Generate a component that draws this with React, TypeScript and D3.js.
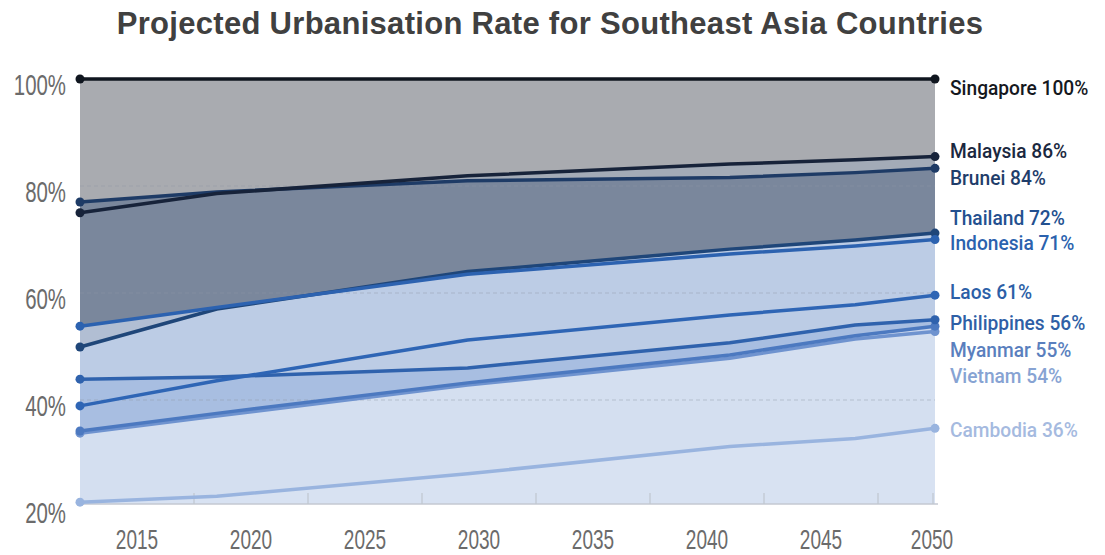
import React from "react";
import * as d3 from "d3";

// ---- data ----
const years = [2012.5, 2018.5, 2029.5, 2041, 2046.5, 2050];
const countries = ["Singapore", "Malaysia", "Brunei", "Indonesia", "Thailand", "Laos", "Philippines", "Myanmar", "Vietnam", "Cambodia"];
const singapore = [100, 100, 100, 100, 100, 100];
const malaysia = [75.0, 78.6, 81.9, 84.1, 84.9, 85.5];
const brunei = [77.0, 78.9, 81.0, 81.6, 82.5, 83.3];
const indonesia = [53.8, 57.3, 63.5, 67.3, 68.8, 70.0];
const thailand = [49.9, 57.0, 64.0, 68.2, 69.9, 71.2];
const laos = [38.9, 43.6, 51.2, 55.9, 57.8, 59.6];
const philippines = [43.9, 44.3, 46.0, 50.7, 54.0, 55.0];
const myanmar = [34.2, 37.5, 43.2, 48.4, 52.0, 53.8];
const vietnam = [33.8, 37.0, 42.8, 47.8, 51.4, 52.8];
const cambodia = [20.9, 22.0, 26.2, 31.3, 32.8, 34.7];
const labelPercents = ["100%", "86%", "84%", "71%", "72%", "61%", "56%", "55%", "54%", "36%"];
const xTickLabels = [2015, 2020, 2025, 2030, 2035, 2040, 2045, 2050];
const xTickMarks = [2017.5, 2022.5, 2027.5, 2032.5, 2037.5, 2042.5, 2047.5, 2050];
const yTickValues = [20, 40, 60, 80, 100];
const gridValues = [80, 60, 40];

const seriesValues = [singapore, malaysia, brunei, indonesia, thailand, laos, philippines, myanmar, vietnam, cambodia];

// ---- styles ----
const areaColors = ["#a9abb0", "#a3abb7", "#7a879c", "#b1bed3", "#bccce5", "#bccce5", "#a8bee1", "#c9d6ed", "#d4dff0", "#d8e2f2"];
const lineColors = ["#10161f", "#17233a", "#1e3b66", "#2c62b0", "#1f4679", "#2e65b5", "#2f62ad", "#4c79c0", "#6f93cf", "#99b4df"];
const labelColors = ["#15181e", "#1b2840", "#1f3d6a", "#2b62ae", "#23508f", "#2c5fa7", "#2f5fa6", "#5a7fbe", "#87a3d3", "#a5badf"];
const labelDy = [16, 1.5, 17, 10.5, -8, 4, 10, 31, 51.5, 8.5];

const W = 1105;
const H = 555;
const plotBottom = 504;

export default function App() {
  const x = d3.scaleLinear().domain([2012.5, 2050]).range([80, 935]);
  const y = d3.scaleLinear().domain([20, 100]).range([507, 79]);

  const area = d3
    .area<number>()
    .x((_, i) => x(years[i]))
    .y0(plotBottom)
    .y1((d) => y(d));
  const line = d3
    .line<number>()
    .x((_, i) => x(years[i]))
    .y((d) => y(d));

  const axisFont = "'Liberation Sans', Arial, sans-serif";
  const labelFont = "Roboto, 'Liberation Sans', Arial, sans-serif";

  const drawOrderLines = seriesValues.map((_, i) => i).reverse();

  return (
    <svg width={W} height={H} style={{ position: "absolute", left: 0, top: 0, background: "#fff" }}>
      <text
        x={550}
        y={34}
        textAnchor="middle"
        fontFamily="'Liberation Sans', Arial, sans-serif"
        fontWeight="bold"
        fontSize={31}
        letterSpacing={0.3}
        fill="#404040"
      >
        Projected Urbanisation Rate for Southeast Asia Countries
      </text>

      {/* areas */}
      {seriesValues.map((vals, i) => (
        <path key={"a" + i} d={area(vals) || ""} fill={areaColors[i]} />
      ))}

      {/* grid lines */}
      {gridValues.map((g) => (
        <line
          key={"g" + g}
          x1={x(2012.5)}
          x2={x(2050)}
          y1={y(g)}
          y2={y(g)}
          stroke="#8d96a6"
          strokeOpacity={0.45}
          strokeDasharray="4,3"
          strokeWidth={1}
        />
      ))}

      {/* x axis */}
      <line x1={x(2012.5)} x2={x(2050) + 3} y1={plotBottom} y2={plotBottom} stroke="#c4c9d2" strokeWidth={1.5} />
      {xTickMarks.map((t) => (
        <line key={"tm" + t} x1={x(t) - (t === 2050 ? 2 : 0)} x2={x(t) - (t === 2050 ? 2 : 0)} y1={plotBottom} y2={plotBottom - 11} stroke="#c0c6cf" strokeWidth={1.2} />
      ))}
      {xTickLabels.map((t) => (
        <text
          key={"xl" + t}
          transform={`translate(${x(t) - (t === 2050 ? 3 : 0)},549) scale(0.68,1)`}
          textAnchor="middle"
          fontFamily={axisFont}
          fontSize={28}
          fill="#6b6b6b"
        >
          {t}
        </text>
      ))}

      {/* y axis labels */}
      {yTickValues.map((v) => (
        <text
          key={"yl" + v}
          transform={`translate(66,${y(v) + 15.5}) scale(0.68,1)`}
          textAnchor="end"
          fontFamily={axisFont}
          fontSize={30}
          fill="#6b6b6b"
        >
          {v + "%"}
        </text>
      ))}

      {/* lines */}
      {drawOrderLines.map((i) => (
        <path
          key={"l" + i}
          d={line(seriesValues[i]) || ""}
          fill="none"
          stroke={lineColors[i]}
          strokeWidth={3.5}
          strokeLinejoin="round"
        />
      ))}

      {/* dots */}
      {drawOrderLines.map((i) => (
        <g key={"d" + i}>
          <circle cx={x(years[0])} cy={y(seriesValues[i][0])} r={4.5} fill={lineColors[i]} />
          <circle cx={x(years[years.length - 1])} cy={y(seriesValues[i][years.length - 1])} r={4.5} fill={lineColors[i]} />
        </g>
      ))}

      {/* end labels */}
      {countries.map((c, i) => (
        <text
          key={"el" + i}
          transform={`translate(950,${y(seriesValues[i][years.length - 1]) + labelDy[i]}) scale(0.935,1)`}
          fontFamily={labelFont}
          fontWeight={500}
          fontSize={20.5}
          fill={labelColors[i]}
        >
          {c + " " + labelPercents[i]}
        </text>
      ))}
    </svg>
  );
}
